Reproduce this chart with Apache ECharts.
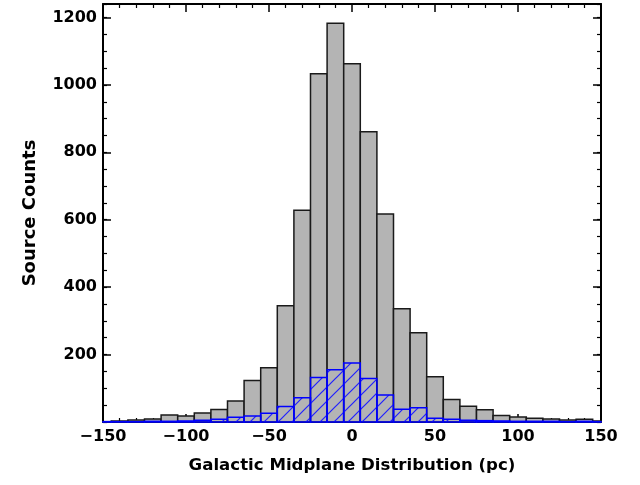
<!DOCTYPE html>
<html>
<head>
<meta charset="utf-8">
<script src="https://cdn.jsdelivr.net/npm/echarts@6/dist/echarts.min.js"></script>
<style>html,body{margin:0;padding:0;background:#fff}#c{width:640px;height:485px}</style>
</head>
<body>
<div id="c"></div>
<script>
// bin centres (pc), bin width 10 pc
const binCenters = [-150,-140,-130,-120,-110,-100,-90,-80,-70,-60,-50,-40,-30,-20,-10,0,10,20,30,40,50,60,70,80,90,100,110,120,130,140,150];
const allCounts  = [1,3,6,9,21,18,27,37,62,123,161,345,628,1033,1183,1063,861,617,336,265,134,67,47,36,19,15,11,9,6,8,3];
const subCounts  = [1,1,1,2,2,3,5,8,14,18,26,46,72,132,155,175,129,80,38,42,11,8,5,4,3,2,2,2,1,2,1];
const binWidth = 10;
const xTicks = [-150,-100,-50,0,50,100,150];
const yTicks = [200,400,600,800,1000,1200];
const xRange = [-150,150];
const yMax = 1240;

const FONT = 'DejaVu Sans';

// hatch pattern
const pc = document.createElement('canvas');
const P = 14;
pc.width = P; pc.height = P;
const g = pc.getContext('2d');
g.strokeStyle = '#2020ff';
g.lineWidth = 1.2;
g.beginPath();
g.moveTo(-1, P + 1); g.lineTo(P + 1, -1);
g.moveTo(-1, 1); g.lineTo(1, -1);
g.moveTo(P - 1, P + 1); g.lineTo(P + 1, P - 1);
g.stroke();

function makeData(counts){ return binCenters.map((c,i)=>[c, counts[i]]); }

function histRender(fill, stroke, lw){
  return function(params, api){
    const c = api.value(0), v = api.value(1);
    const x0 = Math.max(c - binWidth/2, xRange[0]);
    const x1 = Math.min(c + binWidth/2, xRange[1]);
    const p0 = api.coord([x0, v]);
    const p1 = api.coord([x1, 0]);
    return {
      type: 'rect',
      shape: {x: p0[0], y: p0[1], width: p1[0]-p0[0], height: p1[1]-p0[1]},
      style: {fill: fill, stroke: stroke, lineWidth: lw}
    };
  };
}

const chart = echarts.init(document.getElementById('c'), null, {renderer: 'canvas'});
const axisLine = {show: true, onZero: false, lineStyle: {color: '#000', width: 2}};
const noLine = {show: false, onZero: false};
const labelStyle = {color: '#000', fontFamily: FONT, fontSize: 16, fontWeight: 'bold'};
const fmtNum = v => (v < 0 ? '\u2212' + Math.abs(v) : String(v));

chart.setOption({
  animation: false,
  backgroundColor: '#fff',
  grid: {left: 103, right: 39, top: 4, bottom: 63, containLabel: false},
  xAxis: [
    {type: 'value', position: 'bottom', min: xRange[0], max: xRange[1], interval: 50,
     axisLine: axisLine, splitLine: {show: false},
     axisTick: {inside: true, length: 8, lineStyle: {color: '#000', width: 1.5}},
     minorTick: {show: true, splitNumber: 5, length: 4, lineStyle: {color: '#000', width: 1.2}},
     axisLabel: Object.assign({margin: 7, formatter: v => xTicks.includes(v) ? fmtNum(v) : ''}, labelStyle),
     name: 'Galactic Midplane Distribution (pc)', nameLocation: 'middle', nameGap: 35,
     nameTextStyle: {color: '#000', fontFamily: FONT, fontSize: 16.6, fontWeight: 'bold'}},
    {type: 'value', position: 'top', min: xRange[0], max: xRange[1], interval: 50,
     axisLine: axisLine, splitLine: {show: false},
     axisTick: {inside: true, length: 8, lineStyle: {color: '#000', width: 1.5}},
     minorTick: {show: true, splitNumber: 5, length: 4, lineStyle: {color: '#000', width: 1.2}},
     axisLabel: {show: false}}
  ],
  yAxis: [
    {type: 'value', position: 'left', min: 0, max: yMax, interval: 200,
     axisLine: axisLine, splitLine: {show: false},
     axisTick: {inside: true, length: 8, lineStyle: {color: '#000', width: 1.5}},
     axisLabel: Object.assign({margin: 6, showMaxLabel: false, formatter: v => yTicks.includes(v) ? String(v) : ''}, labelStyle),
     name: 'Source Counts', nameLocation: 'middle', nameGap: 64, nameRotate: 90,
     nameTextStyle: {color: '#000', fontFamily: FONT, fontSize: 18, fontWeight: 'bold'}},
    {type: 'value', position: 'left', min: 0, max: yMax, interval: 50,
     axisLine: noLine, splitLine: {show: false},
     axisTick: {inside: true, length: 4, lineStyle: {color: '#000', width: 1.2}},
     axisLabel: {show: false}},
    {type: 'value', position: 'right', min: 0, max: yMax, interval: 200,
     axisLine: axisLine, splitLine: {show: false},
     axisTick: {inside: true, length: 8, lineStyle: {color: '#000', width: 1.5}},
     axisLabel: {show: false}},
    {type: 'value', position: 'right', min: 0, max: yMax, interval: 50,
     axisLine: noLine, splitLine: {show: false},
     axisTick: {inside: true, length: 4, lineStyle: {color: '#000', width: 1.2}},
     axisLabel: {show: false}}
  ],
  series: [
    {type: 'custom', xAxisIndex: 0, yAxisIndex: 0, data: makeData(allCounts),
     renderItem: histRender('#b4b4b4', '#1a1a1a', 1.5), z: 1},
    {type: 'custom', xAxisIndex: 0, yAxisIndex: 0, data: makeData(subCounts),
     renderItem: histRender({image: pc, repeat: 'repeat'}, '#0000ff', 1.5), z: 2}
  ]
});
</script>
</body>
</html>
